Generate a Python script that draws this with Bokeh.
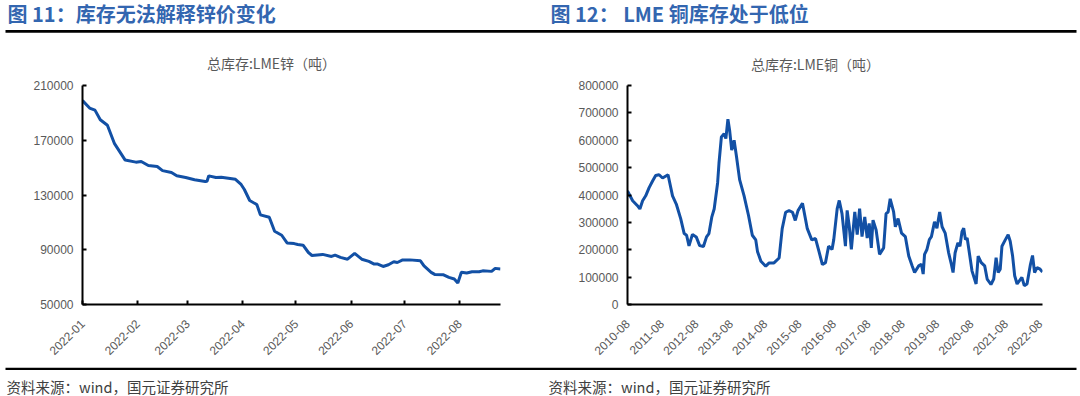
import math
from datetime import datetime, timedelta

from bokeh.plotting import figure
from bokeh.layouts import row, column
from bokeh.models import (Range1d, FixedTicker, DatetimeTickFormatter,
                          BasicTickFormatter, Label, BoxAnnotation)
from bokeh.embed import file_html
from bokeh.resources import INLINE

# ---------------- data ----------------
left_title = "图 11：库存无法解释锌价变化"
left_subtitle = "总库存:LME锌（吨）"
right_title = "图 12：  LME 铜库存处于低位"
right_subtitle = "总库存:LME铜（吨）"
source_text = "资料来源：wind，国元证券研究所"

zinc_dates = [
    "2022-01-01", "2022-01-05", "2022-01-08", "2022-01-11", "2022-01-15", "2022-01-19",
    "2022-01-22", "2022-01-25", "2022-01-31", "2022-02-03", "2022-02-07", "2022-02-12",
    "2022-02-15", "2022-02-20", "2022-02-23", "2022-02-28", "2022-03-05", "2022-03-11",
    "2022-03-12", "2022-03-13", "2022-03-17", "2022-03-20", "2022-03-28", "2022-03-31",
    "2022-04-02", "2022-04-05", "2022-04-09", "2022-04-11", "2022-04-16", "2022-04-19",
    "2022-04-23", "2022-04-26", "2022-04-30", "2022-05-02", "2022-05-05", "2022-05-08",
    "2022-05-10", "2022-05-16", "2022-05-21", "2022-05-23", "2022-05-26", "2022-05-30",
    "2022-06-03", "2022-06-07", "2022-06-11", "2022-06-14", "2022-06-16", "2022-06-19",
    "2022-06-22", "2022-06-25", "2022-06-27", "2022-06-30", "2022-07-04", "2022-07-10",
    "2022-07-12", "2022-07-16", "2022-07-18", "2022-07-23", "2022-07-26", "2022-07-29",
    "2022-07-31", "2022-08-02", "2022-08-05", "2022-08-08", "2022-08-12", "2022-08-14",
    "2022-08-19", "2022-08-21", "2022-08-24",
]
zinc_stock = [
    199000, 193500, 192000, 185000, 181000, 167500,
    161500, 155500, 154000, 154500, 151500, 150800,
    147800, 146400, 144000, 142800, 141100, 139800,
    140000, 144000, 142800, 142900, 141500, 138000,
    134000, 126000, 123000, 115500, 113700, 103500,
    100600, 95000, 94500, 93800, 93300, 88000,
    85800, 86600, 85100, 86100, 84400, 83100,
    87300, 83100, 81500, 79500, 79500, 77800,
    79000, 81200, 80700, 82600, 82600, 81900,
    78200, 73500, 72000, 71700, 69800, 68600,
    65700, 73500, 73000, 73900, 73900, 74600,
    74200, 76400, 75900,
]
zinc_yticks = [50000, 90000, 130000, 170000, 210000]
zinc_xticks = ["2022-01-01", "2022-02-01", "2022-03-01", "2022-04-01",
               "2022-05-01", "2022-06-01", "2022-07-01", "2022-08-01"]

copper_years = [
    2010.58, 2010.73, 2010.87, 2010.94, 2011.02, 2011.11, 2011.21, 2011.31, 2011.40, 2011.50,
    2011.60, 2011.76, 2011.89, 2012.00, 2012.13, 2012.23, 2012.30, 2012.37, 2012.47, 2012.58,
    2012.68, 2012.79, 2012.88, 2012.95, 2013.03, 2013.10, 2013.20, 2013.24, 2013.31, 2013.39,
    2013.44, 2013.50, 2013.55, 2013.61, 2013.68, 2013.75, 2013.84, 2013.97, 2014.10, 2014.21,
    2014.31, 2014.36, 2014.46, 2014.60, 2014.70, 2014.84, 2014.99, 2015.08, 2015.18, 2015.28,
    2015.38, 2015.46, 2015.54, 2015.67, 2015.81, 2015.94, 2016.05, 2016.15, 2016.25, 2016.34,
    2016.43, 2016.53, 2016.58, 2016.68, 2016.74, 2016.82, 2016.92, 2016.97, 2017.03, 2017.09,
    2017.19, 2017.26, 2017.33, 2017.40, 2017.48, 2017.55, 2017.61, 2017.67, 2017.72, 2017.81,
    2017.91, 2018.03, 2018.10, 2018.16, 2018.22, 2018.32, 2018.37, 2018.45, 2018.55, 2018.66,
    2018.76, 2018.86, 2018.93, 2019.05, 2019.13, 2019.18, 2019.22, 2019.29, 2019.36, 2019.42,
    2019.51, 2019.58, 2019.66, 2019.73, 2019.82, 2019.92, 2020.00, 2020.05, 2020.11, 2020.19,
    2020.25, 2020.31, 2020.36, 2020.41, 2020.46, 2020.51, 2020.60, 2020.72, 2020.78, 2020.87,
    2020.97, 2021.04, 2021.15, 2021.23, 2021.30, 2021.36, 2021.42, 2021.47, 2021.57, 2021.65,
    2021.71, 2021.78, 2021.84, 2021.91, 2021.98, 2022.05, 2022.12, 2022.20, 2022.30, 2022.36,
    2022.42, 2022.49, 2022.58, 2022.65,
]
copper_stock = [
    415000, 379000, 361000, 349000, 379000, 397000, 427000, 451000, 471000, 474000,
    462000, 474000, 397000, 367000, 313000, 259000, 253000, 214000, 256000, 247000,
    215000, 212000, 247000, 259000, 319000, 349000, 444000, 516000, 612000, 624000,
    606000, 677000, 636000, 564000, 600000, 540000, 456000, 397000, 325000, 253000,
    236000, 194000, 158000, 140000, 152000, 152000, 170000, 277000, 337000, 343000,
    337000, 307000, 343000, 370000, 277000, 236000, 241000, 194000, 146000, 153000,
    213000, 201000, 237000, 350000, 380000, 332000, 213000, 344000, 284000, 201000,
    338000, 255000, 350000, 248000, 320000, 243000, 296000, 207000, 308000, 272000,
    183000, 207000, 332000, 338000, 386000, 338000, 284000, 314000, 261000, 248000,
    177000, 141000, 117000, 141000, 147000, 111000, 183000, 201000, 237000, 248000,
    302000, 279000, 338000, 284000, 261000, 189000, 147000, 117000, 189000, 225000,
    213000, 266000, 279000, 237000, 243000, 201000, 123000, 75000, 177000, 153000,
    141000, 93000, 73000, 93000, 171000, 117000, 129000, 213000, 237000, 255000,
    231000, 177000, 105000, 75000, 87000, 99000, 69000, 75000, 147000, 179000,
    117000, 135000, 129000, 119000,
]
copper_yticks = [0, 100000, 200000, 300000, 400000, 500000, 600000, 700000, 800000]
copper_xticks = ["%d-08-01" % y for y in range(2010, 2023)]

# ---------------- styling ----------------
LINE_COLOR = "#1250a5"
TITLE_COLOR = "#3366b0"
TICK_COLOR = "#595959"
CJK = "Noto Sans CJK SC"
LATIN = "Liberation Sans"
TOTAL_W = 1080
HEAD_H, CHART_H, FOOT_H = 76, 286, 34
EPOCH = datetime(1970, 1, 1)


def to_date(y):
    base = datetime(int(y), 1, 1)
    return base + timedelta(days=(y - int(y)) * 365.25)


def ms(d):
    return (d - EPOCH).total_seconds() * 1000.0


def parse(s):
    return datetime.strptime(s, "%Y-%m-%d")


def blank_fig(width, height):
    p = figure(width=width, height=height, x_range=Range1d(0, width), y_range=Range1d(height, 0),
               x_axis_location=None, y_axis_location=None,
               output_backend="svg", toolbar_location=None,
               min_border=0, min_border_left=0, min_border_right=0,
               min_border_top=0, min_border_bottom=0)
    p.outline_line_color = None
    p.grid.visible = False
    p.background_fill_color = "white"
    p.border_fill_color = "white"
    return p


def chart_fig(x_range, y_range, left, right, top, bottom):
    p = figure(width=TOTAL_W // 2, height=CHART_H, x_axis_type="datetime",
               x_range=x_range, y_range=y_range,
               output_backend="svg", toolbar_location=None,
               min_border_left=left, min_border_right=right,
               min_border_top=top, min_border_bottom=bottom)
    p.outline_line_color = None
    p.grid.visible = False
    p.background_fill_color = "white"
    p.border_fill_color = "white"
    for ax in (p.xaxis[0], p.yaxis[0]):
        ax.axis_line_color = "black"
        ax.axis_line_width = 2
        ax.major_tick_line_color = "black"
        ax.major_tick_line_width = 2
        ax.major_tick_in = 4
        ax.major_tick_out = 0
        ax.minor_tick_line_color = None
        ax.major_label_text_font = LATIN
        ax.major_label_text_font_size = "12px"
        ax.major_label_text_color = TICK_COLOR
    p.yaxis.formatter = BasicTickFormatter(use_scientific=False)
    p.yaxis.major_label_standoff = 9
    p.xaxis.major_label_orientation = math.pi / 4
    p.xaxis.major_label_standoff = 17
    fmt = "%Y-%m"
    p.xaxis.formatter = DatetimeTickFormatter(years=fmt, months=fmt, days=fmt,
                                              hours=fmt, minutes=fmt, seconds=fmt,
                                              milliseconds=fmt, microseconds=fmt)
    return p


# ---------------- header ----------------
head = blank_fig(TOTAL_W, HEAD_H)
for tx, tt in ((7, left_title), (550, right_title)):
    head.add_layout(Label(x=tx, y=13, text=tt, text_font=CJK, text_font_style="bold",
                          text_font_size="20px", text_color=TITLE_COLOR,
                          text_baseline="middle", text_align="left"))
head.add_layout(BoxAnnotation(left=5, right=1076, top=29.5, bottom=32.2,
                              fill_color="black", fill_alpha=1, line_color=None))
for sx, sy, st in ((271, 62, left_subtitle), (815, 63, right_subtitle)):
    head.add_layout(Label(x=sx, y=sy, text=st, text_font=CJK, text_font_size="14px",
                          text_color=TICK_COLOR, text_baseline="middle", text_align="center"))

# ---------------- left: zinc ----------------
zd = [parse(d) for d in zinc_dates]
p1 = chart_fig(Range1d(parse(zinc_xticks[0]), zd[-1]), Range1d(50000, 210000),
               left=82, right=40, top=9, bottom=57)
p1.yaxis.ticker = FixedTicker(ticks=zinc_yticks)
p1.xaxis.ticker = FixedTicker(ticks=[ms(parse(t)) for t in zinc_xticks])
p1.line(zd, zinc_stock, line_color=LINE_COLOR, line_width=3)

# ---------------- right: copper ----------------
cd = [to_date(y) for y in copper_years]
p2 = chart_fig(Range1d(cd[0], cd[-1]), Range1d(0, 800000),
               left=87, right=38, top=8, bottom=57)
p2.yaxis.ticker = FixedTicker(ticks=copper_yticks)
p2.xaxis.ticker = FixedTicker(ticks=[ms(parse(t)) for t in copper_xticks])
p2.xaxis.major_tick_in = 0
p2.line(cd, copper_stock, line_color=LINE_COLOR, line_width=3)

# ---------------- footer ----------------
foot = blank_fig(TOTAL_W, FOOT_H)
foot.add_layout(BoxAnnotation(left=5, right=1076, top=5.3, bottom=7.4,
                              fill_color="black", fill_alpha=1, line_color=None))
for fx in (6, 548):
    foot.add_layout(Label(x=fx, y=24, text=source_text, text_font=CJK, text_font_size="14.5px",
                          text_color="#404040", text_baseline="middle", text_align="left"))

layout = column(head, row(p1, p2), foot)
open("out.html", "w").write(file_html(layout, INLINE))
